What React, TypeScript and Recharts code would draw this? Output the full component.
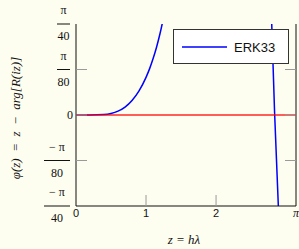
import React from "react";
import {
  LineChart,
  Line,
  XAxis,
  YAxis,
  ReferenceLine,
  Legend
} from "recharts";

// values
const zValues = [0, 0.2, 0.4, 0.5, 0.6, 0.7, 0.8, 0.9, 1.0, 1.05, 1.1, 1.15, 1.2, 1.25, 1.3, 2.79, 2.836, 2.895];
const erk33Phase = [0, 0, 0.0004, 0.0013, 0.0033, 0.0068, 0.0125, 0.0208, 0.0325, 0.0398, 0.0485, 0.0585, 0.0703, 0.084, null, 0.088, 0.002, -0.087];

const xTicks = [0, 1, 2, Math.PI];
const xTickLabels = ["0", "1", "2", "π"];

const yTicks = [-Math.PI / 40, -Math.PI / 80, 0, Math.PI / 80, Math.PI / 40];
const yTickNums = ["−\u00a0π", "−\u00a0π", "0", "π", "π"];
const yTickDens = ["40", "80", "", "80", "40"];

const data = zValues.map((z, i) => ({ z, phi: erk33Phase[i] }));

const SERIF = "'Liberation Serif', 'DejaVu Serif', serif";
const SANS = "'Liberation Sans', Arial, sans-serif";
const TICK = "#9a9a9a";
const TICK_LEN = 11;

const findIdx = (arr: number[], v: number) =>
  arr.findIndex((t) => Math.abs(t - v) < 1e-9);

const XTickBottom = (props: any) => {
  const { x, y, payload } = props;
  const i = findIdx(xTicks, payload.value);
  const inner = i > 0 && i < xTicks.length - 1;
  const isPi = xTickLabels[i] === "π";
  return (
    <g>
      {inner && <line x1={x} x2={x} y1={y} y2={y - TICK_LEN} stroke={TICK} />}
      <text
        x={x}
        y={y + 11}
        textAnchor="middle"
        fontFamily={isPi ? SERIF : SANS}
        fontSize={isPi ? 12 : 11}
        fontStyle={isPi ? "italic" : "normal"}
        fill="#111"
      >
        {xTickLabels[i]}
      </text>
    </g>
  );
};

const XTickTop = (props: any) => {
  const { x, y, payload } = props;
  const i = findIdx(xTicks, payload.value);
  if (i <= 0 || i >= xTicks.length - 1) return <g />;
  return <line x1={x} x2={x} y1={y} y2={y + TICK_LEN} stroke={TICK} />;
};

const YTickLeft = (props: any) => {
  const { x, y, payload } = props;
  const i = findIdx(yTicks, payload.value);
  const inner = i > 0 && i < yTicks.length - 1;
  const num = yTickNums[i];
  const den = yTickDens[i];
  const right = x - 6;
  const w = num.startsWith("−") ? 26 : 13;
  const cx = right - w / 2;
  return (
    <g>
      {inner && <line x1={x} x2={x + TICK_LEN} y1={y} y2={y} stroke={TICK} />}
      {den ? (
        <g fontFamily={SERIF} fontSize={12} fill="#111">
          <text x={cx} y={y - 10} textAnchor="middle">
            {num}
          </text>
          <line x1={right - w} x2={right} y1={y} y2={y} stroke="#111" strokeWidth={1} />
          <text x={cx} y={y + 16} textAnchor="middle">
            {den}
          </text>
        </g>
      ) : (
        <text x={x - 3} y={y + 4} textAnchor="end" fontFamily={SERIF} fontSize={12} fill="#111">
          {num}
        </text>
      )}
    </g>
  );
};

const YTickRight = (props: any) => {
  const { x, y, payload } = props;
  const i = findIdx(yTicks, payload.value);
  if (i <= 0 || i >= yTicks.length - 1) return <g />;
  return <line x1={x - TICK_LEN} x2={x} y1={y} y2={y} stroke={TICK} />;
};

const LegendBox = (props: any) => {
  const item = (props.payload || [])[0];
  const color = item ? item.color : "#0000ff";
  const name = item ? item.value : "ERK33";
  return (
    <svg width={116} height={35} style={{ display: "block" }}>
      <rect x={0.5} y={0.5} width={115} height={34} fill="#ffffff" stroke="#333" strokeWidth={1} />
      <line x1={9} x2={54} y1={18} y2={18} stroke={color} strokeWidth={1.5} />
      <text x={61} y={23} fontFamily={SANS} fontSize={13} fill="#111">
        {name}
      </text>
    </svg>
  );
};

export default function App() {
  return (
    <div
      style={{
        position: "absolute",
        left: 0,
        top: 0,
        width: 299,
        height: 249,
        background: "#fefef0"
      }}
    >
      <LineChart
        width={299}
        height={249}
        data={data}
        margin={{ top: 24, right: 0, bottom: 0, left: 0 }}
      >
        <XAxis
          dataKey="z"
          type="number"
          domain={[0, Math.PI]}
          ticks={xTicks}
          interval={0}
          allowDataOverflow
          height={43}
          tickSize={0}
          tickMargin={0}
          tickLine={false}
          axisLine={{ stroke: "#111" }}
          tick={<XTickBottom />}
          label={{
            content: (p: any) => {
              const vb = p.viewBox;
              return (
                <text
                  x={vb.x + vb.width / 2 - 2}
                  y={vb.y + 38}
                  textAnchor="middle"
                  fontFamily={SERIF}
                  fontStyle="italic"
                  fontSize={13}
                  fill="#111"
                >
                  {"z\u00a0=\u00a0hλ"}
                </text>
              );
            }
          }}
        />
        <XAxis
          xAxisId="top"
          orientation="top"
          type="number"
          domain={[0, Math.PI]}
          ticks={xTicks}
          interval={0}
          allowDataOverflow
          height={0}
          tickSize={0}
          tickMargin={0}
          tickLine={false}
          axisLine={{ stroke: "#111" }}
          tick={<XTickTop />}
        />
        <YAxis
          type="number"
          domain={[-Math.PI / 40, Math.PI / 40]}
          ticks={yTicks}
          interval={0}
          allowDataOverflow
          width={76}
          tickSize={0}
          tickMargin={0}
          tickLine={false}
          axisLine={{ stroke: "#111" }}
          tick={<YTickLeft />}
          label={{
            content: (p: any) => {
              const vb = p.viewBox;
              const cx = 15;
              const cy = vb.y + vb.height / 2 + 3;
              return (
                <text
                  x={cx}
                  y={cy}
                  transform={`rotate(-90 ${cx} ${cy})`}
                  textAnchor="middle"
                  dominantBaseline="central"
                  fontFamily={SERIF}
                  fontStyle="italic"
                  fontSize={13}
                  fill="#111"
                >
                  {"φ(z)\u00a0\u00a0=\u00a0\u00a0z\u00a0\u00a0−\u00a0\u00a0arg[R(iz)]"}
                </text>
              );
            }
          }}
        />
        <YAxis
          yAxisId="right"
          orientation="right"
          type="number"
          domain={[-Math.PI / 40, Math.PI / 40]}
          ticks={yTicks}
          interval={0}
          allowDataOverflow
          width={3}
          tickSize={0}
          tickMargin={0}
          tickLine={false}
          axisLine={{ stroke: "#111" }}
          tick={<YTickRight />}
        />
        <Line
          type="monotone"
          dataKey="phi"
          name="ERK33"
          stroke="#0000ff"
          strokeWidth={1.5}
          dot={false}
          isAnimationActive={false}
        />
        <ReferenceLine y={0} stroke="#ff0000" strokeWidth={1.5} strokeOpacity={0.85} />
        <Legend
          layout="vertical"
          align="center"
          verticalAlign="middle"
          content={<LegendBox />}
          wrapperStyle={{ left: 173, top: 29, width: 116, height: 35 }}
        />
      </LineChart>
    </div>
  );
}
